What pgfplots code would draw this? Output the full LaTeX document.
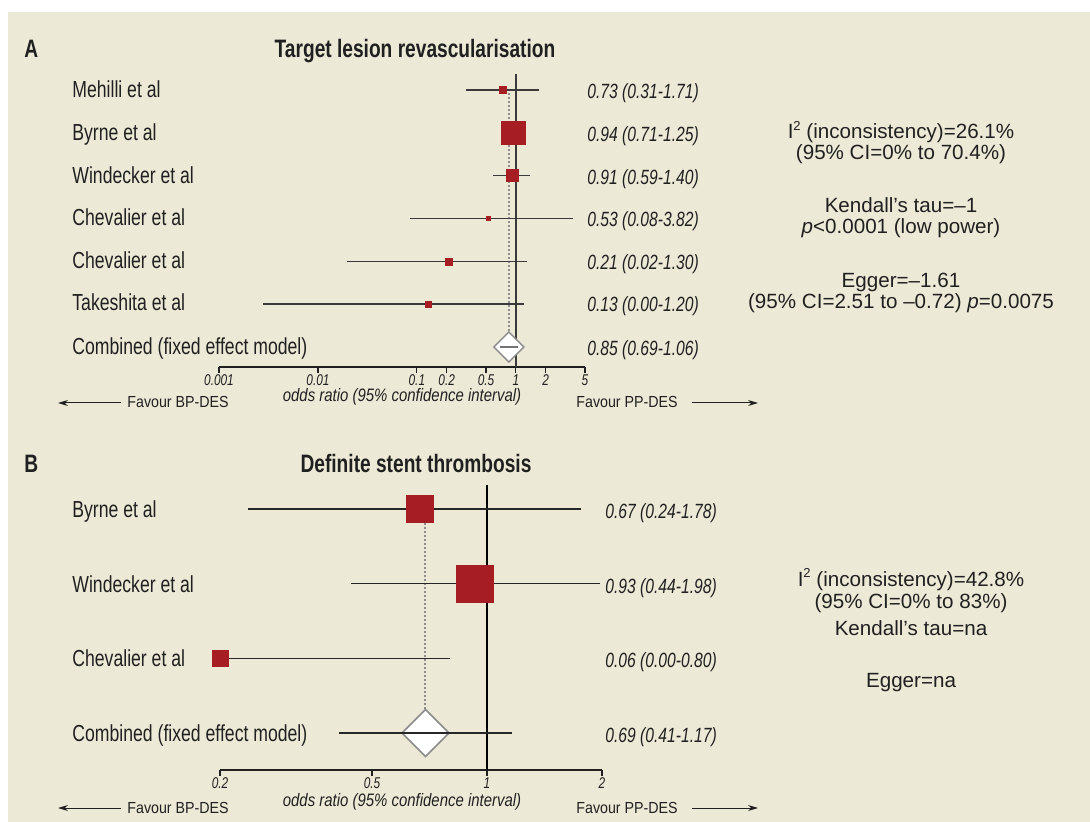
\documentclass[border=0pt]{standalone}
\usepackage{pgfplots}
\pgfplotsset{compat=1.18}
\usepackage{fontspec}
\usetikzlibrary{arrows.meta}
\setmainfont{Liberation Sans}
\newfontfamily\cond{Liberation Sans}[FakeStretch=0.76]
\newfontfamily\condx{Liberation Sans}[FakeStretch=0.83]
\newfontfamily\semi{Liberation Sans}[FakeStretch=0.89]
\definecolor{bg}{RGB}{236,234,214}
\definecolor{fred}{RGB}{166,29,36}
\definecolor{ln}{RGB}{58,58,58}
\definecolor{txt}{RGB}{32,32,32}
\definecolor{dgray}{RGB}{140,140,140}
\newcommand\sq{{\fontsize{6.5}{7}\selectfont\raisebox{0.62em}{2}}}
\pgfplotsset{forestax/.style={scale only axis, axis x line=bottom, hide y axis,
  x axis line style={-, line width=1pt, draw=txt},
  tick align=outside, major tick length=2.8pt,
  xtick style={line width=0.6pt, draw=txt},
  xticklabel style={font=\cond\itshape\fontsize{7.8}{9}\selectfont, text=txt, inner sep=1pt},
  clip=false, xminorticks=false},
  sqm/.style={only marks, color=fred, mark=square*, mark options={draw=fred, fill=fred, line width=0.2pt}}}
\begin{document}
\begin{tikzpicture}
\begin{scope}[x=0.5pt,y=-0.5pt]
\useasboundingbox (0,0) rectangle (1090,822);
\fill[white] (0,0) rectangle (1090,822);
\fill[bg] (8,12) rectangle (1090,822);
\end{scope}

% ---------- Panel A ----------
\begin{axis}[xmode=log, forestax, anchor=south west, at={(109.5pt,-183.5pt)}, width=183pt, height=146.5pt,
  xmin=0.001, xmax=5, ymin=0.533, ymax=7.374,
  xtick={0.001,0.01,0.1,0.2,0.5,1,2,5}, xticklabels={0.001,0.01,0.1,0.2,0.5,1,2,5}]
\addplot[draw=ln, line width=1pt] coordinates {(1,0.533) (1,7.374)};
\addplot[draw=dgray, densely dotted, line width=1pt] coordinates {(0.85,1) (0.85,7.05)};
\addplot[draw=ln, line width=0.8pt] coordinates {(0.31,7) (1.71,7)};
\addplot[draw=ln, line width=0.8pt] coordinates {(0.71,6) (1.25,6)};
\addplot[draw=ln, line width=0.8pt] coordinates {(0.59,5) (1.40,5)};
\addplot[draw=ln, line width=0.8pt] coordinates {(0.085,4) (3.82,4)};
\addplot[draw=ln, line width=0.8pt] coordinates {(0.0196,3) (1.30,3)};
\addplot[draw=ln, line width=0.8pt] coordinates {(0.0028,2) (1.20,2)};
\addplot[sqm, mark size=1.7pt] coordinates {(0.73,7)};
\addplot[sqm, mark size=5.9pt] coordinates {(0.94,6)};
\addplot[sqm, mark size=3.0pt] coordinates {(0.91,5)};
\addplot[sqm, mark size=1.05pt] coordinates {(0.53,4)};
\addplot[sqm, mark size=1.7pt] coordinates {(0.21,3)};
\addplot[sqm, mark size=1.7pt] coordinates {(0.13,2)};
% combined diamond (0.85; 0.69-1.06)
\addplot[fill=white, draw=dgray, line width=0.7pt] coordinates {(1.2045,1) (0.85,1.35) (0.600,1) (0.85,0.65)} -- cycle;
\addplot[draw=black!55, line width=1pt] coordinates {(0.69,1) (1.06,1)};
\end{axis}

% ---------- Panel B ----------
\begin{axis}[xmode=log, forestax, anchor=south west, at={(110pt,-385pt)}, width=191pt, height=142.5pt,
  xmin=0.2, xmax=2, ymin=0.505, ymax=4.32,
  xtick={0.2,0.5,1,2}, xticklabels={0.2,0.5,1,2}]
\addplot[draw=black, line width=0.7pt] coordinates {(1,0.505) (1,4.32)};
\addplot[draw=dgray, densely dotted, line width=1pt] coordinates {(0.69,1) (0.69,4)};
\addplot[draw=black!85, line width=0.7pt] coordinates {(0.237,4) (1.76,4)};
\addplot[draw=black!85, line width=0.7pt] coordinates {(0.44,3) (1.98,3)};
\addplot[draw=black!85, line width=0.7pt] coordinates {(0.2,2) (0.80,2)};
\addplot[sqm, mark size=6.7pt] coordinates {(0.668,4)};
\addplot[sqm, mark size=9.2pt] coordinates {(0.93,3)};
\addplot[sqm, mark size=3.95pt] coordinates {(0.2,2)};
% combined diamond (0.69; 0.41-1.17)
\addplot[fill=white, draw=dgray, line width=0.8pt] coordinates {(0.795,1) (0.69,1.315) (0.599,1) (0.69,0.685)} -- cycle;
\addplot[draw=black!85, line width=0.7pt] coordinates {(0.41,1) (1.16,1)};
\end{axis}

% ---------- Text ----------
\begin{scope}[x=0.5pt,y=-0.5pt, every node/.style={inner sep=0pt, text=txt}]
\tikzset{nm/.style={anchor=base west, font=\cond\fontsize{11.6}{13}\selectfont},
 es/.style={anchor=base west, font=\cond\itshape\fontsize{10.3}{12}\selectfont},
 st/.style={anchor=base, font=\fontsize{10.3}{12}\selectfont},
 tt/.style={font=\cond\bfseries\fontsize{12.6}{14}\selectfont},
 xl/.style={anchor=base, font=\condx\itshape\fontsize{9}{10}\selectfont},
 fv/.style={anchor=base west, font=\semi\fontsize{8}{9}\selectfont}}
% titles
\node[tt, anchor=base west] at (24,58) {A};
\node[tt, anchor=base] at (415,58) {Target lesion revascularisation};
\node[tt, anchor=base west] at (24,473) {B};
\node[tt, anchor=base] at (416,473) {Definite stent thrombosis};
% names A
\node[nm] at (72,98) {Mehilli et al};
\node[nm] at (72,141) {Byrne et al};
\node[nm] at (72,184) {Windecker et al};
\node[nm] at (72,226) {Chevalier et al};
\node[nm] at (72,269) {Chevalier et al};
\node[nm] at (72,311) {Takeshita et al};
\node[nm] at (72,355) {Combined (fixed effect model)};
% estimates A
\node[es] at (587,99) {0.73 (0.31-1.71)};
\node[es] at (587,142) {0.94 (0.71-1.25)};
\node[es] at (587,185) {0.91 (0.59-1.40)};
\node[es] at (587,227) {0.53 (0.08-3.82)};
\node[es] at (587,270) {0.21 (0.02-1.30)};
\node[es] at (587,312) {0.13 (0.00-1.20)};
\node[es] at (587,356) {0.85 (0.69-1.06)};
% stats A
\node[st] at (901,139) {I\sq{} (inconsistency)=26.1\%};
\node[st] at (901,160) {(95\% CI=0\% to 70.4\%)};
\node[st] at (901,213) {Kendall’s tau=–1};
\node[st] at (901,234) {\textit{p}<0.0001 (low power)};
\node[st] at (901,288) {Egger=–1.61};
\node[st] at (901,309) {(95\% CI=2.51 to –0.72) \textit{p}=0.0075};
% axis text A
\node[xl] at (402,402) {odds ratio (95\% confidence interval)};
\node[fv] at (127,408) {Favour BP-DES};
\node[fv] at (576,408) {Favour PP-DES};
\draw[-{Stealth[length=5pt,width=3pt]}, line width=0.5pt, draw=txt] (121,403) -- (58,403);
\draw[-{Stealth[length=5pt,width=3pt]}, line width=0.5pt, draw=txt] (692,403) -- (758,403);
% names B
\node[nm] at (72,517) {Byrne et al};
\node[nm] at (72,592) {Windecker et al};
\node[nm] at (72,666) {Chevalier et al};
\node[nm] at (72,741) {Combined (fixed effect model)};
% estimates B
\node[es] at (605,518) {0.67 (0.24-1.78)};
\node[es] at (605,593) {0.93 (0.44-1.98)};
\node[es] at (605,667) {0.06 (0.00-0.80)};
\node[es] at (605,742) {0.69 (0.41-1.17)};
% stats B
\node[st] at (911,586) {I\sq{} (inconsistency)=42.8\%};
\node[st] at (911,608) {(95\% CI=0\% to 83\%)};
\node[st] at (911,635) {Kendall’s tau=na};
\node[st] at (911,687) {Egger=na};
% axis text B
\node[xl] at (402,806) {odds ratio (95\% confidence interval)};
\node[fv] at (127,813) {Favour BP-DES};
\node[fv] at (576,813) {Favour PP-DES};
\draw[-{Stealth[length=5pt,width=3pt]}, line width=0.5pt, draw=txt] (121,808) -- (58,808);
\draw[-{Stealth[length=5pt,width=3pt]}, line width=0.5pt, draw=txt] (692,808) -- (758,808);
\end{scope}
\end{tikzpicture}
\end{document}
